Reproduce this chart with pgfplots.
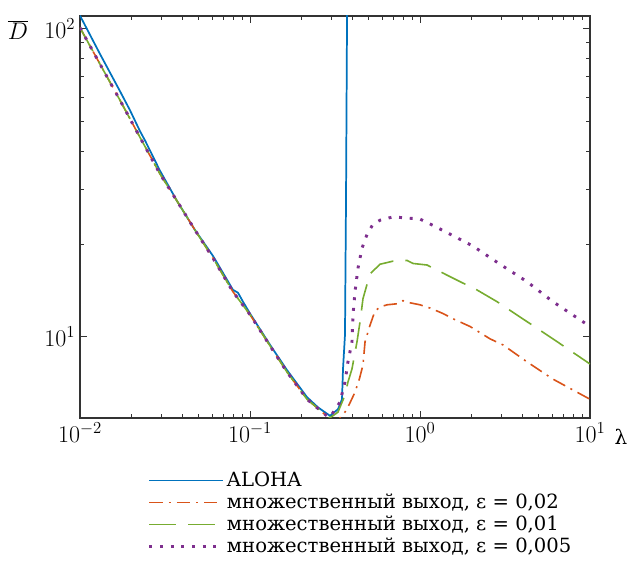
\RequirePackage{fix-cm}
\documentclass[border=0pt]{standalone}
\usepackage{fontspec}
\usepackage{pgfplots}
\pgfplotsset{compat=1.18}
\newfontfamily\legfont{DejaVu Serif}
\definecolor{mblue}{rgb}{0,0.447,0.741}
\definecolor{morange}{rgb}{0.85,0.325,0.098}
\definecolor{mgreen}{rgb}{0.466,0.674,0.188}
\definecolor{mpurple}{rgb}{0.494,0.184,0.556}
\begin{document}
\begin{tikzpicture}
\useasboundingbox (-60pt,-114pt) rectangle (414pt,313.5pt);
\begin{axis}[
  scale only axis, width=382.5pt, height=301.5pt,
  xmode=log, ymode=log,
  xmin=0.01, xmax=10, ymin=5.45, ymax=110,
  xtick={0.01,0.1,1,10}, ytick={10,100},
  axis line style={draw=black!80, line width=0.9pt},
  tick style={draw=black!80, line width=0.6pt},
  tick align=inside, major tick length=5pt, minor tick length=3pt,
  tick label style={font=\fontsize{18}{21}\selectfont},
  legend style={at={(0.125,-0.121)}, anchor=north west, draw=none, fill=none,
    font=\legfont\fontsize{14.7}{17}\selectfont, row sep=0pt},
  legend cell align=left,
  legend image code/.code={\draw[#1] plot coordinates {(0pt,0pt) (51pt,0pt)};\path (0pt,0pt) -- (55pt,0pt);},
]
\addplot[mblue, line width=1.3pt] coordinates {
(0.01,110.3) (0.01311,82.8) (0.01719,62.7) (0.01968,54.4) (0.02254,46.5) (0.02412,43.4)
(0.02955,34.6) (0.03721,27.6) (0.04749,22.2) (0.0606,18.3) (0.07943,14.2) (0.0850,13.9)
(0.09095,13.0) (0.1,11.9) (0.1311,9.42) (0.165,7.80) (0.2164,6.37) (0.2512,5.90)
(0.2876,5.60) (0.2955,5.54) (0.3294,5.82) (0.3477,6.27) (0.3525,7.86) (0.3621,10.15)
(0.3671,27.6) (0.3746,200)
};
\addlegendentry{ALOHA}
\addplot[morange, line width=1.2pt, dash pattern=on 10pt off 4.5pt on 1.5pt off 4.5pt] coordinates {
(0.01,100.8) (0.01311,76.8) (0.01719,58.6) (0.02254,44.4) (0.02955,33.8) (0.03721,27.6)
(0.04749,22.2) (0.0606,18.0) (0.07943,14.0) (0.1,11.8) (0.1311,9.35) (0.165,7.69)
(0.2164,6.27) (0.2512,5.85) (0.2876,5.48) (0.31,5.36) (0.33,5.38) (0.35,5.55)
(0.372,5.82) (0.4147,6.61) (0.44,7.3) (0.462,8.1) (0.475,9.63) (0.508,10.9) (0.543,12.1)
(0.582,12.5) (0.64,12.7) (0.733,12.8) (0.794,13.1) (0.869,12.9) (1.0,12.7) (1.145,12.4)
(1.365,11.9) (1.56,11.45) (1.97,10.8) (2.58,9.85) (3.08,9.41) (4.26,8.29) (6.05,7.29)
(10,6.27)
};
\addlegendentry{множественный выход, ε = 0,02}
\addplot[mgreen, line width=1.2pt, dash pattern=on 20pt off 9pt] coordinates {
(0.01,100.8) (0.01311,76.8) (0.01719,58.6) (0.02254,44.4) (0.02955,33.8) (0.03721,27.6)
(0.04749,22.2) (0.0606,18.0) (0.07943,14.0) (0.1,11.8) (0.1311,9.35) (0.165,7.69)
(0.2164,6.27) (0.2512,5.85) (0.2876,5.50) (0.2955,5.46) (0.329,5.69) (0.362,6.46)
(0.377,7.13) (0.398,7.86) (0.426,9.63) (0.444,11.2) (0.462,13.3) (0.508,16.0)
(0.582,17.2) (0.693,17.6) (0.839,17.7) (0.91,17.3) (1.1,17.1) (1.365,16.1) (1.72,15.1)
(2.16,14.2) (2.84,13.0) (4.26,11.2) (6.05,9.85) (10,8.16)
};
\addlegendentry{множественный выход, ε = 0,01}
\addplot[mpurple, line width=2.2pt, dash pattern=on 2.2pt off 5.8pt] coordinates {
(0.01,100.8) (0.01311,76.8) (0.01719,58.6) (0.02254,44.4) (0.02955,33.8) (0.03721,27.6)
(0.04749,22.2) (0.0606,18.0) (0.07943,14.0) (0.1,11.8) (0.1311,9.35) (0.165,7.69)
(0.2164,6.27) (0.2512,5.85) (0.2876,5.50) (0.2955,5.48) (0.338,6.13) (0.362,7.13)
(0.377,8.29) (0.398,9.63) (0.4036,11.8) (0.4147,14.0) (0.4318,16.7) (0.456,19.4)
(0.488,21.5) (0.529,23.2) (0.582,23.9) (0.693,24.5) (0.839,24.3) (1.0,24.1) (1.19,23.0)
(1.44,21.8) (2.05,19.7) (2.955,17.2) (4.26,15.1) (6.05,13.0) (10,10.8)
};
\addlegendentry{множественный выход, ε = 0,005}
\end{axis}
\node at (-46.5pt,291pt) {\fontsize{18}{21}\selectfont$\overline{D}$};
\node at (405.75pt,-14.25pt) {\legfont\fontsize{15}{17}\selectfont λ};
\end{tikzpicture}
\end{document}
